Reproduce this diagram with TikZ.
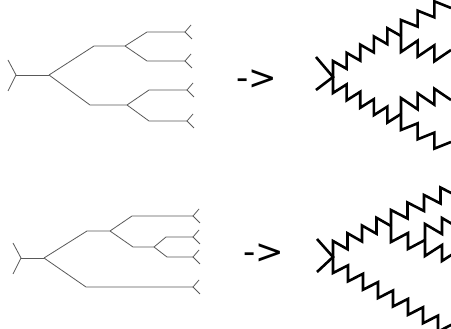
\documentclass[tikz,border=0pt]{standalone}
\usepackage{fontspec}
\newfontfamily\arrfont{DejaVu Sans}
\usetikzlibrary{calc}
\newcommand\sawup[3]{\draw[zig] (#1) \foreach \k in {1,...,#3} { -- ++(0,-16) -- ($(#1)!\k/#3!(#2)$) };}
\newcommand\sawdown[3]{\draw[zig] (#1) \foreach \k in {1,...,#3} { -- ++(0,16) -- ($(#1)!\k/#3!(#2)$) };}
\begin{document}
\begin{tikzpicture}[x=1pt,y=-1pt,
  tree/.style={draw=black!65, line width=0.8pt},
  zig/.style={draw=black, line width=2.6pt, line join=miter, line cap=butt},
  arrowtext/.style={font=\arrfont\fontsize{34}{34}\selectfont, inner sep=0pt},
  leaffork/.pic={\draw[tree] (6,-7) -- (0,0) -- (7,7);}]
\useasboundingbox (0,0) rectangle (451,329);
\clip (0,0) rectangle (451,329);
% ---------- top-left tree
\coordinate (tp1) at (8,60); \coordinate (tp2) at (8,91);
\coordinate (tr) at (16,75); \coordinate (ta) at (49,75);
\coordinate (tb) at (125,46); \coordinate (tc) at (127,105);
\coordinate (tl1) at (185,32); \coordinate (tl2) at (185,61);
\coordinate (tl3) at (187,90); \coordinate (tl4) at (187,121);
\draw[tree] (tp1) -- (tr) -- (tp2);
\draw[tree] (tr) -- (ta);
\draw[tree] (ta) -- (94,46) -- (tb);
\draw[tree] (ta) -- (90,105) -- (tc);
\draw[tree] (tb) -- (147,32) -- (tl1);
\draw[tree] (tb) -- (147,61) -- (tl2);
\draw[tree] (tc) -- (149,90) -- (tl3);
\draw[tree] (tc) -- (149,121) -- (tl4);
\foreach \l in {tl1,tl2,tl3,tl4} \pic at (\l) {leaffork};
% ---------- bottom-left tree
\coordinate (bp1) at (13,243); \coordinate (bp2) at (13,274);
\coordinate (br) at (21,258); \coordinate (ba) at (44,258);
\coordinate (bb) at (110,231); \coordinate (bd) at (154,247);
\coordinate (bl1) at (193,216); \coordinate (bl2) at (193,237);
\coordinate (bl3) at (193,257); \coordinate (bl4) at (193,287);
\draw[tree] (bp1) -- (br) -- (bp2);
\draw[tree] (br) -- (ba);
\draw[tree] (ba) -- (87,231) -- (bb);
\draw[tree] (ba) -- (86,287) -- (bl4);
\draw[tree] (bb) -- (132,216) -- (bl1);
\draw[tree] (bb) -- (133,247) -- (bd);
\draw[tree] (bd) -- (166,237) -- (bl2);
\draw[tree] (bd) -- (167,257) -- (bl3);
\foreach \l in {bl1,bl2,bl3,bl4} \pic at (\l) {leaffork};
% ---------- arrows
\node[arrowtext] (ar1) at (257,80) {->};
\node[arrowtext] (ar2) at (264,254) {->};
% ---------- top-right zigzag tree
\coordinate (rtp1) at (316,57); \coordinate (rtp2) at (316,90);
\coordinate (rt) at (333,77);
\coordinate (rj1) at (401,36); \coordinate (rj2) at (401,114);
\coordinate (rt1) at (451,8); \coordinate (rt2) at (451,50);
\coordinate (rt3) at (451,100); \coordinate (rt4) at (451,142);
\draw[zig] (rtp1) -- (rt) -- (rtp2);
\sawup{rt}{rj1}{5}
\sawdown{rt}{rj2}{5}
\sawup{rj1}{rt1}{3}
\sawdown{rj1}{rt2}{3}
\sawup{rj2}{rt3}{3}
\sawdown{rj2}{rt4}{3}
% ---------- bottom-right zigzag tree
\coordinate (rbp1) at (317,239); \coordinate (rbp2) at (317,272);
\coordinate (rb) at (333,257);
\coordinate (rj3) at (391,226); \coordinate (rj4) at (425,240);
\coordinate (rb1) at (457,196); \coordinate (rb2) at (459,228);
\coordinate (rb3) at (459,250); \coordinate (rb4) at (453,324);
\draw[zig] (rbp1) -- (rb) -- (rbp2);
\sawup{rb}{rj3}{4}
\sawdown{rb}{rb4}{8}
\sawup{rj3}{rb1}{4}
\sawdown{rj3}{rj4}{2}
\sawup{rj4}{rb2}{2}
\sawdown{rj4}{rb3}{2}
\end{tikzpicture}
\end{document}
